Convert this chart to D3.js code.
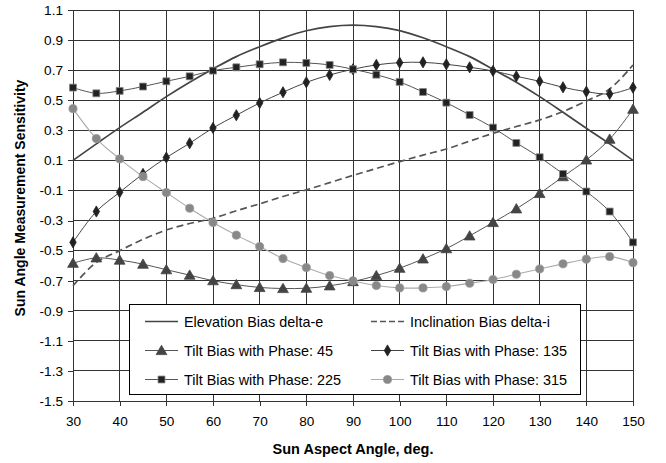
<!DOCTYPE html>
<html>
<head>
<meta charset="utf-8">
<script src="https://cdn.jsdelivr.net/npm/d3@7"></script>
<style>
	body { margin: 0; background: #fff; }
	svg  { display: block; font-family: 'Liberation Sans', Arial, sans-serif; }
</style>
</head>
<body>
<svg id="chart" width="666" height="463"></svg>
<script>
var angles      = [ 30, 35, 40, 45, 50, 55, 60, 65, 70, 75, 80, 85, 90, 95, 100, 105, 110, 115, 120, 125, 130, 135, 140, 145, 150 ];
var elevation   = [ 0.10, 0.21, 0.318, 0.42, 0.524, 0.62, 0.708, 0.79, 0.856, 0.915, 0.962, 0.99, 1.0, 0.99, 0.963, 0.915, 0.856, 0.79, 0.706, 0.62, 0.524, 0.42, 0.314, 0.21, 0.10 ];
var inclination = [ -0.734, -0.578, -0.50, -0.425, -0.363, -0.32, -0.285, -0.235, -0.189, -0.14, -0.096, -0.048, 0.0, 0.046, 0.092, 0.135, 0.176, 0.228, 0.280, 0.325, 0.369, 0.425, 0.495, 0.575, 0.734 ];
var phase45     = [ -0.584, -0.548, -0.563, -0.590, -0.627, -0.663, -0.700, -0.726, -0.745, -0.752, -0.750, -0.734, -0.706, -0.666, -0.617, -0.555, -0.487, -0.402, -0.313, -0.222, -0.120, -0.008, 0.103, 0.241, 0.440 ];
var phase135    = [ -0.445, -0.240, -0.112, 0.010, 0.119, 0.214, 0.316, 0.400, 0.482, 0.553, 0.619, 0.668, 0.706, 0.735, 0.750, 0.752, 0.739, 0.719, 0.695, 0.659, 0.626, 0.586, 0.557, 0.542, 0.584 ];
var phase225    = [ 0.584, 0.546, 0.562, 0.591, 0.626, 0.659, 0.697, 0.719, 0.739, 0.752, 0.748, 0.735, 0.706, 0.670, 0.622, 0.555, 0.484, 0.402, 0.318, 0.216, 0.121, 0.010, -0.107, -0.240, -0.445 ];
var phase315    = [ 0.444, 0.245, 0.110, -0.008, -0.114, -0.218, -0.313, -0.397, -0.473, -0.553, -0.613, -0.666, -0.701, -0.732, -0.748, -0.748, -0.739, -0.717, -0.692, -0.657, -0.622, -0.588, -0.557, -0.540, -0.580 ];
var xTicks      = [ 30, 40, 50, 60, 70, 80, 90, 100, 110, 120, 130, 140, 150 ];
var yTicks      = [ 1.1, 0.9, 0.7, 0.5, 0.3, 0.1, -0.1, -0.3, -0.5, -0.7, -0.9, -1.1, -1.3, -1.5 ];
var seriesNames = [ 'Elevation Bias delta-e', 'Inclination Bias delta-i', 'Tilt Bias with Phase: 45', 'Tilt Bias with Phase: 135', 'Tilt Bias with Phase: 225', 'Tilt Bias with Phase: 315' ];

var M = { left: 73, right: 633, top: 10, bottom: 401 };
var svg = d3.select( '#chart' );

var x = d3.scaleLinear().domain( [ 30, 150 ] ).range( [ M.left, M.right ] );
var y = d3.scaleLinear().domain( [ -1.5, 1.1 ] ).range( [ M.bottom, M.top ] );

// grid
var grid = svg.append( 'g' ).attr( 'shape-rendering', 'crispEdges' ).attr( 'stroke', '#333' ).attr( 'stroke-width', 1 );
grid.selectAll( 'line.h' ).data( yTicks ).join( 'line' )
	.attr( 'x1', M.left ).attr( 'x2', M.right )
	.attr( 'y1', d => y( d ) ).attr( 'y2', d => y( d ) );
grid.selectAll( 'line.v' ).data( xTicks ).join( 'line' )
	.attr( 'x1', d => x( d ) ).attr( 'x2', d => x( d ) )
	.attr( 'y1', M.top ).attr( 'y2', M.bottom );

// axes
var yAxis = svg.append( 'g' )
	.attr( 'transform', 'translate(' + M.left + ',0)' )
	.call( d3.axisLeft( y ).tickValues( yTicks ).tickFormat( d3.format( '.1f' ) ).tickSize( 5 ).tickPadding( 5 ) );
var xAxis = svg.append( 'g' )
	.attr( 'transform', 'translate(0,' + M.bottom + ')' )
	.call( d3.axisBottom( x ).tickValues( xTicks ).tickFormat( d3.format( 'd' ) ).tickSize( 5 ).tickPadding( 10 ) );
[ yAxis, xAxis ].forEach( function( a ) {
	a.select( '.domain' ).attr( 'stroke', '#333' ).attr( 'shape-rendering', 'crispEdges' );
	a.selectAll( '.tick line' ).attr( 'stroke', '#333' ).attr( 'shape-rendering', 'crispEdges' );
	a.selectAll( 'text' ).attr( 'fill', '#000' ).attr( 'font-size', 13.6 ).attr( 'font-family', "'Liberation Sans', Arial, sans-serif" );
} );
yAxis.selectAll( 'text' ).text( d => d3.format( '.1f' )( d ).replace( '−', '-' ) );

// titles
svg.append( 'text' )
	.attr( 'x', ( M.left + M.right ) / 2 ).attr( 'y', 454 )
	.attr( 'text-anchor', 'middle' ).attr( 'font-weight', 'bold' ).attr( 'font-size', 14.5 )
	.text( 'Sun Aspect Angle, deg.' );
svg.append( 'text' )
	.attr( 'transform', 'translate(25,' + ( ( M.top + M.bottom ) / 2 - 7.5 ) + ') rotate(-90)' )
	.attr( 'text-anchor', 'middle' ).attr( 'font-weight', 'bold' ).attr( 'font-size', 14 )
	.text( 'Sun Angle Measurement Sensitivity' );

// series
var series = [
	  { name: seriesNames[ 0 ], values: elevation,   line: '#444',    width: 1.7, dash: null,  marker: null }
	, { name: seriesNames[ 1 ], values: inclination, line: '#555',    width: 1.7, dash: '7,4', marker: null }
	, { name: seriesNames[ 2 ], values: phase45,     line: '#555',    width: 1,   dash: null,  marker: 'triangle', fill: '#444', stroke: '#444' }
	, { name: seriesNames[ 3 ], values: phase135,    line: '#444',    width: 1,   dash: null,  marker: 'diamond',  fill: '#222', stroke: '#222' }
	, { name: seriesNames[ 4 ], values: phase225,    line: '#555',    width: 1,   dash: null,  marker: 'square',   fill: '#222', stroke: '#888' }
	, { name: seriesNames[ 5 ], values: phase315,    line: '#aaa',    width: 1.1, dash: null,  marker: 'circle',   fill: '#888', stroke: '#999' }
];
var symbols = {
	  triangle : d3.symbol().type( d3.symbolTriangle ).size( 50 )
	, diamond  : d3.symbol().type( d3.symbolDiamond ).size( 36 )
	, square   : d3.symbol().type( d3.symbolSquare ).size( 48 )
	, circle   : d3.symbol().type( d3.symbolCircle ).size( 52 )
};
var lineGen = d3.line()
	.x( d => x( d[ 0 ] ) )
	.y( d => y( d[ 1 ] ) )
	.curve( d3.curveCatmullRom.alpha( 0.5 ) );

var plot = svg.append( 'g' );
series.forEach( function( s ) {
	var pts = angles.map( ( a, i ) => [ a, s.values[ i ] ] );
	plot.append( 'path' )
		.attr( 'd', lineGen( pts ) )
		.attr( 'fill', 'none' )
		.attr( 'stroke', s.line )
		.attr( 'stroke-width', s.width )
		.attr( 'stroke-dasharray', s.dash );
} );
series.forEach( function( s ) {
	if ( !s.marker ) return;
	var pts = angles.map( ( a, i ) => [ a, s.values[ i ] ] );
	plot.append( 'g' ).selectAll( 'path' ).data( pts ).join( 'path' )
		.attr( 'd', symbols[ s.marker ] )
		.attr( 'transform', d => 'translate(' + x( d[ 0 ] ) + ',' + ( y( d[ 1 ] ) + ( s.marker === 'triangle' ? 1 : 0 ) ) + ')' )
		.attr( 'fill', s.fill )
		.attr( 'stroke', s.stroke )
		.attr( 'stroke-width', 0.8 );
} );

// legend
var L = { x: 129, y: 304, w: 451, h: 90 };
var legend = svg.append( 'g' );
legend.append( 'rect' )
	.attr( 'x', L.x + 0.5 ).attr( 'y', L.y + 0.5 )
	.attr( 'width', L.w ).attr( 'height', L.h )
	.attr( 'fill', '#fff' ).attr( 'stroke', '#000' ).attr( 'stroke-width', 1 );
var colX = [ 145, 371 ];
var rowY = [ 321.5, 350.5, 379.5 ];
series.forEach( function( s, i ) {
	var lx = colX[ i % 2 ], ly = rowY[ Math.floor( i / 2 ) ];
	var g  = legend.append( 'g' );
	g.append( 'line' )
		.attr( 'x1', lx ).attr( 'x2', lx + 33 )
		.attr( 'y1', ly ).attr( 'y2', ly )
		.attr( 'stroke', s.line ).attr( 'stroke-width', s.width )
		.attr( 'stroke-dasharray', s.dash ? '6,3' : null );
	if ( s.marker ) {
		g.append( 'path' )
			.attr( 'd', symbols[ s.marker ] )
			.attr( 'transform', 'translate(' + ( lx + 16.5 ) + ',' + ( ly + ( s.marker === 'triangle' ? 1 : 0 ) ) + ')' )
			.attr( 'fill', s.fill ).attr( 'stroke', s.stroke ).attr( 'stroke-width', 0.8 );
	}
	g.append( 'text' )
		.attr( 'x', lx + 39 ).attr( 'y', ly + 5 )
		.attr( 'font-size', 14.4 ).attr( 'fill', '#000' )
		.text( s.name );
} );
</script>
</body>
</html>
